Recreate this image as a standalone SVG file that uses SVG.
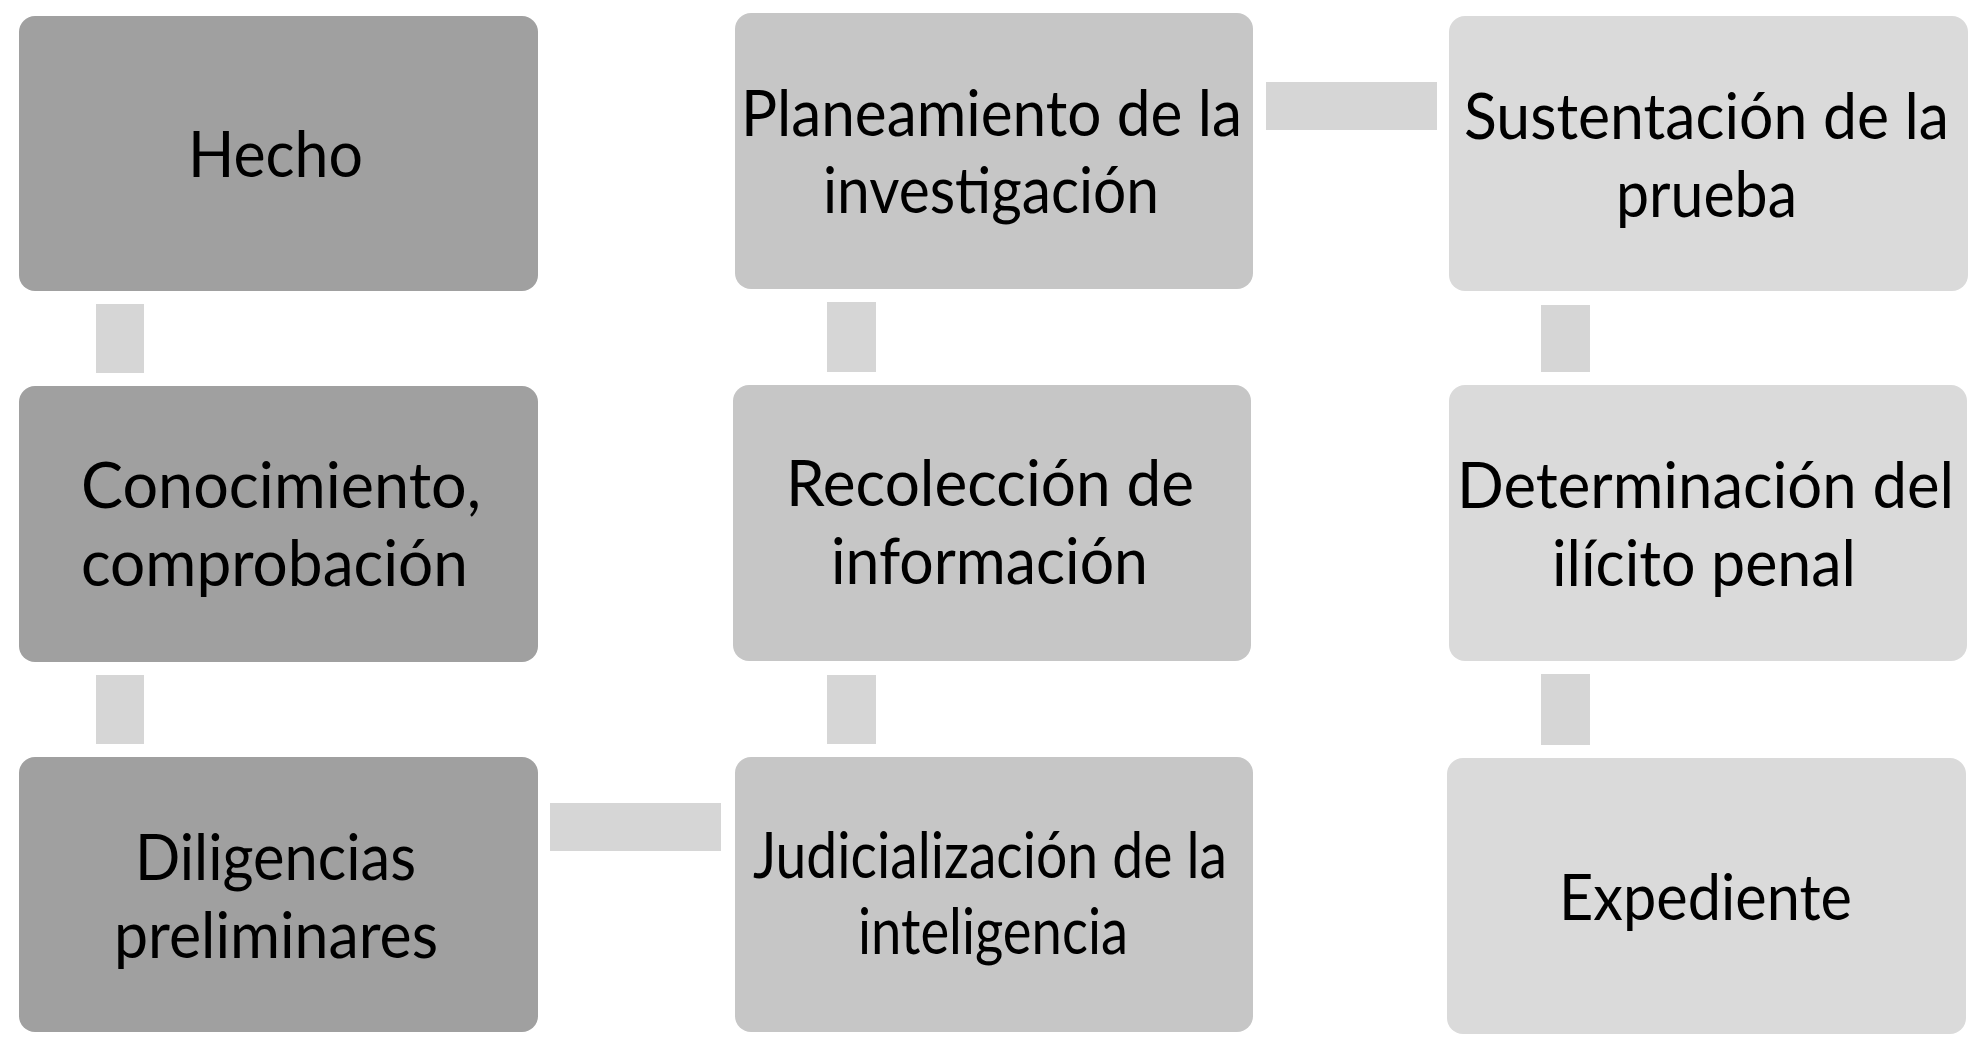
<svg xmlns="http://www.w3.org/2000/svg" width="1986" height="1056" viewBox="0 0 1986 1056">
<style>
.n1{fill:#a0a0a0}
.n2{fill:#c6c6c6}
.n3{fill:#dadada}
.c{fill:#d6d6d6}
text{font-family:Lato,"Liberation Sans",sans-serif;font-size:64px;fill:#000}
</style>
<rect width="1986" height="1056" fill="#ffffff"/>
<g id="connectors">
<rect class="c" x="96" y="304" width="48" height="69"/>
<rect class="c" x="96" y="675" width="48" height="69"/>
<rect class="c" x="550" y="803" width="171" height="48"/>
<rect class="c" x="827" y="302" width="49" height="70"/>
<rect class="c" x="827" y="675" width="49" height="69"/>
<rect class="c" x="1266" y="82" width="171" height="48"/>
<rect class="c" x="1541" y="305" width="49" height="67"/>
<rect class="c" x="1541" y="674" width="49" height="71"/>
</g>
<g id="hecho">
<rect class="n1" x="19" y="16" width="519" height="275" rx="16"/>
<text x="188" y="177" textLength="175" lengthAdjust="spacingAndGlyphs">Hecho</text>
</g>
<g id="conocimiento">
<rect class="n1" x="19" y="386" width="519" height="276" rx="16"/>
<text x="81" y="508" textLength="400" lengthAdjust="spacingAndGlyphs">Conocimiento,</text>
<text x="81" y="586" textLength="387" lengthAdjust="spacingAndGlyphs">comprobación</text>
</g>
<g id="diligencias">
<rect class="n1" x="19" y="757" width="519" height="275" rx="16"/>
<text x="135" y="880" textLength="281" lengthAdjust="spacingAndGlyphs">Diligencias</text>
<text x="114" y="958" textLength="324" lengthAdjust="spacingAndGlyphs">preliminares</text>
</g>
<g id="planeamiento">
<rect class="n2" x="735" y="13" width="518" height="276" rx="16"/>
<text x="741" y="136" textLength="501" lengthAdjust="spacingAndGlyphs">Planeamiento de la</text>
<text x="823" y="213" textLength="336" lengthAdjust="spacingAndGlyphs">investigación</text>
</g>
<g id="recoleccion">
<rect class="n2" x="733" y="385" width="518" height="276" rx="16"/>
<text x="786" y="506" textLength="408" lengthAdjust="spacingAndGlyphs">Recolección de</text>
<text x="831" y="584" textLength="317" lengthAdjust="spacingAndGlyphs">información</text>
</g>
<g id="judicializacion">
<rect class="n2" x="735" y="757" width="518" height="275" rx="16"/>
<text x="753" y="878" textLength="474" lengthAdjust="spacingAndGlyphs">Judicialización de la</text>
<text x="858" y="954" textLength="270" lengthAdjust="spacingAndGlyphs">inteligencia</text>
</g>
<g id="sustentacion">
<rect class="n3" x="1449" y="16" width="519" height="275" rx="16"/>
<text x="1464" y="139" textLength="485" lengthAdjust="spacingAndGlyphs">Sustentación de la</text>
<text x="1616" y="217" textLength="181" lengthAdjust="spacingAndGlyphs">prueba</text>
</g>
<g id="determinacion">
<rect class="n3" x="1449" y="385" width="518" height="276" rx="16"/>
<text x="1457" y="508" textLength="497" lengthAdjust="spacingAndGlyphs">Determinación del</text>
<text x="1552" y="586" textLength="304" lengthAdjust="spacingAndGlyphs">ilícito penal</text>
</g>
<g id="expediente">
<rect class="n3" x="1447" y="758" width="519" height="276" rx="16"/>
<text x="1559" y="920" textLength="293" lengthAdjust="spacingAndGlyphs">Expediente</text>
</g>
</svg>
